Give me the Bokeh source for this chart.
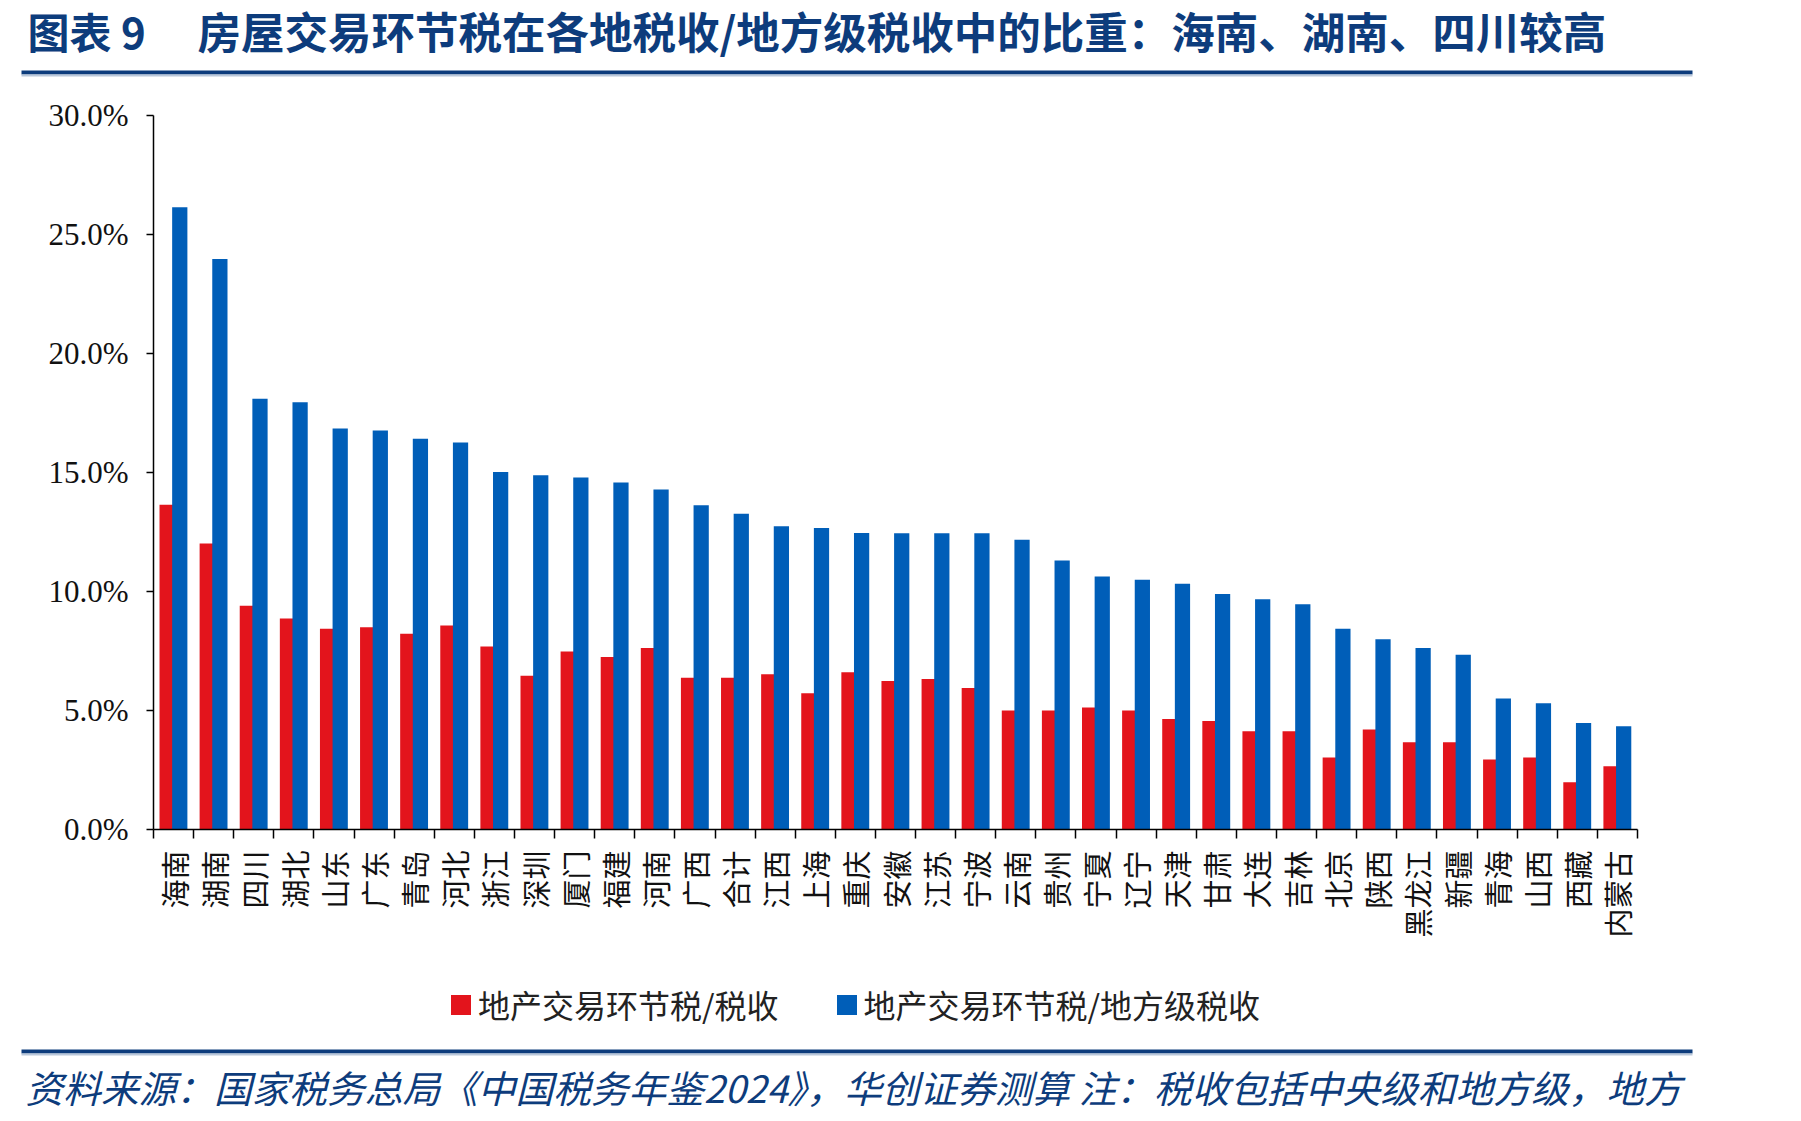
import numpy as np
from bokeh.plotting import figure
from bokeh.layouts import column
from bokeh.models import (Range1d, LinearAxis, FixedTicker, Label, BoxAnnotation,
                          Legend, LegendItem, ColumnDataSource, PrintfTickFormatter)
from bokeh.transform import dodge
from bokeh.embed import file_html
from bokeh.resources import INLINE

# ---------------- data ----------------
regions = ["海南", "湖南", "四川", "湖北", "山东", "广东", "青岛", "河北", "浙江", "深圳",
           "厦门", "福建", "河南", "广西", "合计", "江西", "上海", "重庆", "安徽", "江苏",
           "宁波", "云南", "贵州", "宁夏", "辽宁", "天津", "甘肃", "大连", "吉林", "北京",
           "陕西", "黑龙江", "新疆", "青海", "山西", "西藏", "内蒙古"]
share_of_tax = [13.65, 12.02, 9.40, 8.87, 8.44, 8.50, 8.23, 8.57, 7.69, 6.46,
                7.48, 7.25, 7.63, 6.38, 6.38, 6.52, 5.73, 6.61, 6.24, 6.32,
                5.95, 5.00, 5.00, 5.13, 5.00, 4.64, 4.56, 4.13, 4.13, 3.03,
                4.20, 3.67, 3.67, 2.94, 3.03, 1.99, 2.66]
share_of_local_tax = [26.15, 23.97, 18.10, 17.95, 16.85, 16.76, 16.42, 16.26, 15.02, 14.88,
                      14.79, 14.58, 14.29, 13.62, 13.27, 12.74, 12.67, 12.46, 12.45, 12.45,
                      12.45, 12.17, 11.30, 10.63, 10.49, 10.33, 9.90, 9.67, 9.46, 8.43,
                      7.99, 7.63, 7.34, 5.50, 5.30, 4.48, 4.34]
y_ticks = [0, 5, 10, 15, 20, 25, 30]
series_names = ["地产交易环节税/税收", "地产交易环节税/地方级税收"]
title_head = "图表 9"
title_text = "房屋交易环节税在各地税收/地方级税收中的比重：海南、湖南、四川较高"
source_text = "资料来源：国家税务总局《中国税务年鉴2024》，华创证券测算 注：税收包括中央级和地方级，地方"

# ---------------- layout constants ----------------
W = 1801
TOP_H, MAIN_H, BOT_H = 80, 900, 141
FL, FR = 153, 1637            # frame left / right (px)
FT, FB = 35, 749              # frame top / bottom inside the main figure (px)
RED = "#E3141C"
BLUE = "#005EB8"
NAVY = "#0D3C7C"
LIGHT = "#B9C7DA"
CJK = "Noto Sans CJK SC"


def blank(height):
    f = figure(width=W, height=height, output_backend="svg", toolbar_location=None,
               x_range=Range1d(0, W), y_range=Range1d(height, 0),
               x_axis_type=None, y_axis_type=None,
               min_border=0, min_border_left=0, min_border_right=0,
               min_border_top=0, min_border_bottom=0)
    f.frame_align = False
    f.outline_line_color = None
    f.xgrid.visible = False
    f.ygrid.visible = False
    f.background_fill_color = "white"
    f.border_fill_color = "white"
    return f


def rule(f, x0, x1, y0, y1, color):
    f.add_layout(BoxAnnotation(left=x0, right=x1, top=y0, bottom=y1,
                               fill_color=color, fill_alpha=1, line_color=None))


# ---------------- title strip ----------------
top = blank(TOP_H)
top.add_layout(Label(x=27, y=30, text=title_head, text_font=CJK, text_font_size="42px",
                     text_font_style="bold", text_color=NAVY, text_baseline="middle"))
top.add_layout(Label(x=197, y=30, text=title_text, text_font=CJK, text_font_size="43.5px",
                     text_font_style="bold", text_color=NAVY, text_baseline="middle"))
rule(top, 21, 1692, 70, 74, NAVY)
rule(top, 21, 1692, 74, 76, LIGHT)

# ---------------- main chart ----------------
n = len(regions)
centers = [2 * i + 1 for i in range(n)]
bounds = [2 * i for i in range(n + 1)]
src = ColumnDataSource(dict(x=centers, a=share_of_tax, b=share_of_local_tax, name=regions))

p = figure(width=W, height=MAIN_H, output_backend="svg", toolbar_location=None,
           x_range=Range1d(0, 2 * n), y_range=Range1d(0, 30),
           x_axis_type=None, y_axis_type=None,
           min_border_left=FL, min_border_right=W - FR,
           min_border_top=FT, min_border_bottom=MAIN_H - FB)
p.outline_line_color = None
p.xgrid.visible = False
p.ygrid.visible = False
p.background_fill_color = "white"
p.border_fill_color = "white"

r1 = p.vbar(x=dodge("x", -0.33, range=p.x_range), width=0.74, top="a", source=src,
            fill_color=RED, line_color=None)
r2 = p.vbar(x=dodge("x", 0.31, range=p.x_range), width=0.76, top="b", source=src,
            fill_color=BLUE, line_color=None)

yax = LinearAxis(ticker=FixedTicker(ticks=y_ticks),
                 formatter=PrintfTickFormatter(format="%.1f%%"))
yax.major_label_text_font = "Liberation Serif"
yax.major_label_text_font_size = "31px"
yax.major_label_text_color = "#111111"
yax.major_tick_out = 7
yax.major_tick_in = 0
yax.minor_tick_out = 0
yax.minor_tick_in = 0
yax.major_label_standoff = 18
yax.axis_line_color = "black"
yax.axis_line_width = 1.5
yax.major_tick_line_width = 1.5
p.add_layout(yax, "left")

xax = LinearAxis(ticker=FixedTicker(ticks=centers, minor_ticks=bounds))
xax.major_label_overrides = {c: name for c, name in zip(centers, regions)}
xax.major_label_orientation = np.pi / 2
xax.major_label_text_font = CJK
xax.major_label_text_font_size = "29px"
xax.major_label_text_color = "#111111"
xax.major_tick_out = 0
xax.major_tick_in = 0
xax.minor_tick_out = 9
xax.minor_tick_in = 0
xax.minor_tick_line_color = "black"
xax.minor_tick_line_width = 1.5
xax.major_label_standoff = 12
xax.axis_line_color = "black"
xax.axis_line_width = 1.5
p.add_layout(xax, "below")

# ---------------- legend + source strip ----------------
bot = blank(BOT_H)
# zero-height proxies that carry the two series' fill styles for the legend
g1 = bot.vbar(x=[0], top=[0], bottom=[0], width=1, fill_color=RED, line_color=None)
g2 = bot.vbar(x=[0], top=[0], bottom=[0], width=1, fill_color=BLUE, line_color=None)
legend = Legend(items=[LegendItem(label=series_names[0], renderers=[g1]),
                       LegendItem(label=series_names[1], renderers=[g2])],
                orientation="horizontal", location=(448, 94),
                glyph_width=25, glyph_height=25, label_standoff=5, spacing=55,
                padding=0, margin=0, border_line_color=None, background_fill_alpha=0,
                label_text_font=CJK, label_text_font_size="32px", label_text_color="#222222")
bot.add_layout(legend)
rule(bot, 21, 1692, 69, 73, NAVY)
rule(bot, 21, 1692, 73, 75, LIGHT)
bot.add_layout(Label(x=25, y=106, text=source_text, text_font=CJK, text_font_size="37.7px",
                     text_font_style="italic", text_color=NAVY, text_baseline="middle"))

layout = column(top, p, bot, spacing=0)
open("out.html", "w").write(file_html(layout, INLINE))
